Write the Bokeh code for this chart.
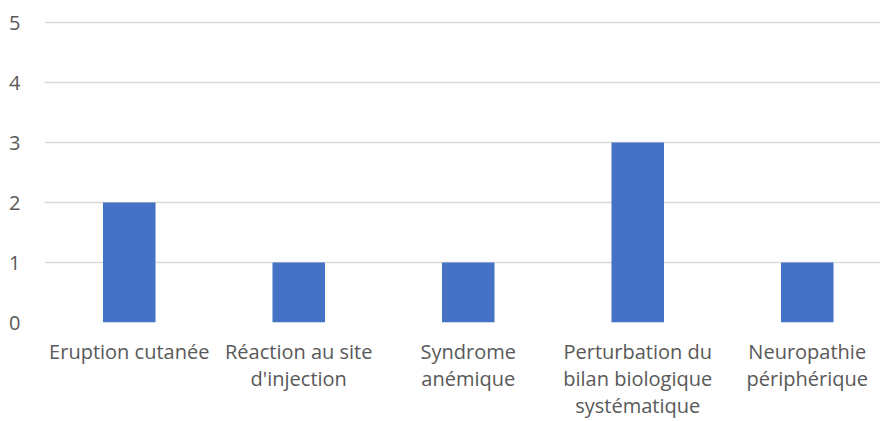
from bokeh.plotting import figure
from bokeh.models import Range1d, FixedTicker, ColumnDataSource
from bokeh.embed import file_html
from bokeh.resources import INLINE

categories = ["Eruption cutanée", "Réaction au site\nd'injection", "Syndrome\nanémique",
              "Perturbation du\nbilan biologique\nsystématique", "Neuropathie\npériphérique"]
values = [2, 1, 1, 3, 1]
y_ticks = [0, 1, 2, 3, 4, 5]

xs = list(range(len(categories)))
src = ColumnDataSource(dict(x=xs, top=values))

p = figure(frame_width=836, frame_height=302, output_backend="svg", toolbar_location=None,
           x_range=Range1d(-0.5, -0.5 + 836 / 169.5), y_range=Range1d(0, 302 / 60),
           min_border_left=44, min_border_right=0, min_border_top=20, min_border_bottom=0)
p.outline_line_color = None
p.vbar(x="x", top="top", width=0.31, source=src, fill_color="#4472C4", line_color=None)

p.xgrid.grid_line_color = None
p.ygrid.grid_line_color = "#d9d9d9"
p.ygrid.grid_line_width = 1.3
p.ygrid.ticker = FixedTicker(ticks=y_ticks)

font = "Open Sans"
p.yaxis.ticker = FixedTicker(ticks=y_ticks)
p.yaxis.axis_line_color = None
p.yaxis.major_tick_line_color = None
p.yaxis.minor_tick_line_color = None
p.yaxis.major_label_text_font = font
p.yaxis.major_label_text_font_size = "20px"
p.yaxis.major_label_text_color = "#595959"
p.yaxis.major_label_standoff = 18

p.xaxis.ticker = FixedTicker(ticks=xs)
p.xaxis.major_label_overrides = {i: c for i, c in zip(xs, categories)}
p.xaxis.axis_line_color = None
p.xaxis.major_tick_line_color = None
p.xaxis.minor_tick_line_color = None
p.xaxis.major_label_text_font = font
p.xaxis.major_label_text_font_size = "20px"
p.xaxis.major_label_text_color = "#595959"
p.xaxis.major_label_text_line_height = 1.0
p.xaxis.major_label_standoff = 9

open("out.html", "w").write(file_html(p, INLINE))
